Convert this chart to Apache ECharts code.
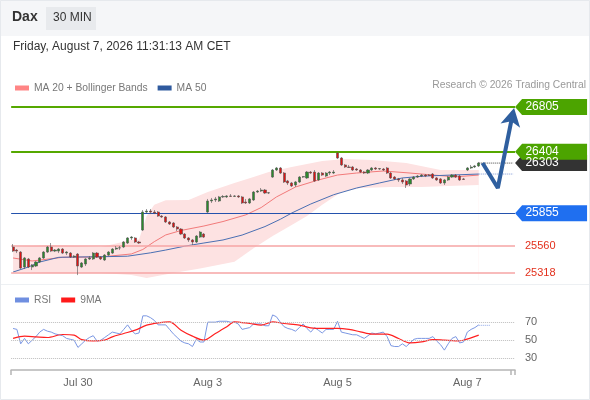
<!DOCTYPE html>
<html>
<head>
<meta charset="utf-8">
<script src="https://cdn.jsdelivr.net/npm/echarts@6/dist/echarts.min.js"></script>
<style>
    html, body { margin: 0; padding: 0; background: #fff; }
    #chart { width: 590px; height: 400px; }
</style>
</head>
<body>
<div id="chart"></div>
<script>
// trading days and 30 minute slots (09:00 - 17:00)
var dayLabels = ['Jul 29', 'Jul 30', 'Jul 31', 'Aug 3', 'Aug 4', 'Aug 5', 'Aug 6', 'Aug 7'];
var shownDays = ['Jul 30', 'Aug 3', 'Aug 5', 'Aug 7'];
var slotTimes = ['09:00', '09:30', '10:00', '10:30', '11:00', '11:30', '12:00', '12:30', '13:00',
    '13:30', '14:00', '14:30', '15:00', '15:30', '16:00', '16:30', '17:00'];
var slotCount = 132;

// [open, close, low, high]
var candles = [
    [25552, 25516, 25507, 25579], [25525, 25516, 25498, 25534], [25507, 25364, 25355, 25516], [25373, 25454, 25355, 25463],
    [25445, 25373, 25364, 25454], [25373, 25391, 25346, 25400], [25382, 25418, 25373, 25427], [25418, 25454, 25409, 25463],
    [25454, 25507, 25445, 25516], [25507, 25552, 25498, 25561], [25552, 25516, 25507, 25588], [25516, 25525, 25507, 25534],
    [25516, 25534, 25498, 25543], [25534, 25498, 25489, 25543], [25498, 25507, 25480, 25516], [25498, 25463, 25454, 25507],
    [25463, 25471, 25454, 25480],
    [25489, 25382, 25301, 25498], [25373, 25409, 25364, 25418], [25400, 25445, 25382, 25454], [25445, 25454, 25436, 25471],
    [25445, 25498, 25436, 25507], [25498, 25463, 25454, 25507], [25463, 25445, 25436, 25471], [25436, 25480, 25427, 25489],
    [25480, 25507, 25471, 25516], [25498, 25534, 25489, 25543], [25534, 25543, 25525, 25561], [25543, 25545, 25525, 25561],
    [25552, 25597, 25543, 25606], [25588, 25633, 25579, 25641], [25633, 25641, 25615, 25650], [25633, 25597, 25588, 25641],
    [25597, 25588, 25579, 25606],
    [25704, 25865, 25695, 25883], [25865, 25874, 25856, 25892], [25874, 25865, 25847, 25892], [25865, 25856, 25847, 25883],
    [25865, 25829, 25821, 25874], [25829, 25821, 25812, 25838], [25821, 25776, 25767, 25829], [25776, 25758, 25749, 25785],
    [25767, 25731, 25722, 25776], [25731, 25713, 25695, 25740], [25713, 25668, 25659, 25722], [25668, 25633, 25624, 25677],
    [25633, 25615, 25597, 25641], [25615, 25597, 25570, 25624], [25597, 25650, 25588, 25659], [25641, 25686, 25633, 25695],
    [25668, 25641, 25633, 25677],
    [25865, 25964, 25856, 25982], [25964, 25973, 25946, 25991], [25973, 25982, 25955, 26000], [25964, 26000, 25955, 26009],
    [26000, 26004, 25991, 26017], [26000, 26009, 25991, 26017], [26009, 26005, 26000, 26026], [26005, 26009, 26000, 26017],
    [26009, 26000, 25991, 26017], [26000, 25946, 25937, 26009], [25955, 25946, 25937, 25982], [25946, 25982, 25937, 25991],
    [25973, 26044, 25964, 26053], [26044, 26053, 26035, 26062], [26053, 26062, 26044, 26080], [26062, 26035, 26026, 26071],
    [26035, 26038, 26026, 26044],
    [26178, 26241, 26170, 26250], [26241, 26259, 26232, 26268], [26259, 26214, 26205, 26268], [26214, 26134, 26125, 26223],
    [26143, 26125, 26107, 26152], [26125, 26098, 26089, 26134], [26107, 26134, 26089, 26143], [26134, 26178, 26125, 26187],
    [26178, 26182, 26170, 26187], [26170, 26223, 26161, 26232], [26223, 26214, 26205, 26232], [26223, 26143, 26134, 26241],
    [26152, 26214, 26143, 26223], [26214, 26196, 26187, 26223], [26187, 26214, 26178, 26223], [26214, 26223, 26196, 26232],
    [26214, 26223, 26205, 26241],
    [26393, 26348, 26340, 26402], [26348, 26286, 26277, 26357], [26286, 26268, 26259, 26295], [26268, 26264, 26259, 26286],
    [26268, 26241, 26232, 26277], [26250, 26241, 26232, 26259], [26241, 26223, 26214, 26250], [26223, 26214, 26205, 26232],
    [26214, 26241, 26205, 26250], [26241, 26259, 26232, 26268], [26259, 26250, 26241, 26268], [26250, 26254, 26241, 26259],
    [26250, 26241, 26232, 26259], [26259, 26214, 26205, 26268], [26214, 26170, 26161, 26223], [26178, 26161, 26152, 26187],
    [26161, 26152, 26134, 26170],
    [26152, 26134, 26116, 26170], [26143, 26107, 26080, 26152], [26116, 26161, 26098, 26170], [26161, 26178, 26152, 26187],
    [26178, 26187, 26170, 26196], [26187, 26196, 26178, 26205], [26196, 26187, 26178, 26205], [26196, 26192, 26187, 26205],
    [26205, 26170, 26161, 26214], [26170, 26152, 26143, 26178], [26161, 26125, 26116, 26170], [26125, 26152, 26107, 26161],
    [26152, 26178, 26143, 26187], [26178, 26196, 26170, 26205], [26196, 26178, 26170, 26205], [26187, 26152, 26143, 26196],
    [26161, 26157, 26152, 26170],
    [26241, 26259, 26232, 26268], [26259, 26268, 26250, 26286], [26268, 26277, 26259, 26286], [26277, 26303, 26268, 26313]
];

// [bar index, value]
var ma20 = [[0, 25454], [5, 25427], [13, 25460], [23, 25463], [31, 25490], [34, 25530], [37, 25600], [40, 25660],
    [44, 25700], [50, 25740], [55, 25780], [61, 25840], [65, 25905], [69, 26000], [74, 26089], [80, 26152], [85, 26196],
    [90, 26214], [97, 26232], [104, 26214], [110, 26196], [116, 26180], [122, 26196]];
var ma50 = [[0, 25328], [4, 25373], [7, 25418], [12, 25460], [17, 25463], [23, 25465], [30, 25470], [36, 25500],
    [40, 25525], [45, 25560], [50, 25588], [55, 25615], [60, 25659], [66, 25735], [70, 25800], [73, 25856], [78, 25937],
    [84, 26020], [90, 26080], [96, 26125], [102, 26170], [108, 26187], [115, 26196], [122, 26205]];
var bandUpper = [[0, 25552], [10, 25570], [23, 25552], [31, 25615], [33, 25620], [35, 25830], [37, 25930], [40, 25970],
    [46, 25973], [51, 26044], [58, 26125], [63, 26178], [67, 26223], [73, 26268], [81, 26322], [87, 26340], [94, 26331],
    [103, 26304], [112, 26241], [122, 26241]];
var bandLower = [[0, 25328], [10, 25319], [23, 25319], [31, 25301], [35, 25275], [42, 25319], [49, 25360], [58, 25420],
    [63, 25540], [68, 25650], [73, 25750], [77, 25830], [81, 25930], [86, 26044], [91, 26080], [99, 26089], [107, 26089],
    [114, 26098], [122, 26107]];

var resistLevels = [26805, 26404];
var pivotLevel = 25855;
var supportLevels = [25560, 25318];
var lastPrice = 26303;
var ma50Last = 26205;
var arrowPath = [[123, 26303], [127, 26080], [131, 26760]];

var rsi = [63, 62, 46, 52, 46, 50, 54, 59, 62, 60, 59, 57, 56, 55, 52, 51, 50,
    42, 46, 50, 53, 55, 49, 50, 53, 56, 59, 58, 57, 62, 67, 61, 57, 58,
    77, 77, 75, 72, 67, 67, 67, 62, 57, 53, 49, 47, 46, 43, 51, 48, 48,
    70, 70, 70, 71, 71, 71, 70, 70, 68, 62, 63, 64, 68, 68, 68, 66, 66,
    78, 76, 70, 65, 63, 62, 60, 64, 68, 63, 59, 64, 61, 58, 62, 62, 62,
    71, 59, 58, 57, 56, 56, 54, 52, 55, 58, 57, 58, 59, 54, 44, 43, 43,
    46, 43, 47, 51, 52, 52, 52, 52, 54, 49, 45, 39, 46, 52, 54, 47, 48,
    59, 62, 64, 67];
var rsiMa9 = [[0, 52], [3, 54.5], [6, 53.7], [9, 53], [13, 56.3], [16, 55.6], [18, 50.7], [21, 49.3], [24, 50],
    [26, 53.7], [29, 57.4], [32, 61.1], [35, 66.7], [38, 69.3], [41, 70.4], [44, 61.1], [47, 54.5], [50, 50],
    [53, 57.4], [56, 64.8], [58, 70.4], [62, 68.5], [65, 66.7], [68, 70.4], [71, 68.5], [75, 66.7], [78, 63.7],
    [81, 63], [85, 63], [88, 61.9], [91, 59.3], [94, 56.7], [98, 56.7], [101, 51.9], [104, 47], [107, 48.1],
    [110, 50.7], [113, 50], [116, 49.3], [118, 50], [122, 55.6]];
var rsiLevels = [70, 50, 30];
var rsiLast = 66.5;

var categories = [];
for (var d = 0; d < dayLabels.length; d++) {
    for (var t = 0; t < slotTimes.length; t++) {
        if (categories.length < slotCount) {
            categories.push(dayLabels[d] + ' ' + slotTimes[t]);
        }
    }
}

function dayOf(val) {
    return val.slice(0, val.lastIndexOf(' '));
}

var font = 'Liberation Sans, Arial, sans-serif';
var boxShape = 'path://M0,8L7,0L72,0L72,16L7,16Z';

function levelBox(value, color) {
    return {
        coord: [slotCount - 1, value],
        value: value,
        itemStyle: { color: color }
    };
}

var levelLines = [];
for (var i = 0; i < resistLevels.length; i++) {
    levelLines.push({ yAxis: resistLevels[i], lineStyle: { color: '#55a800', width: 2, type: 'solid' }, label: { show: false } });
}
levelLines.push({ yAxis: pivotLevel, lineStyle: { color: '#2452ad', width: 1, type: 'solid' }, label: { show: false } });
for (var i = 0; i < supportLevels.length; i++) {
    levelLines.push({
        yAxis: supportLevels[i],
        lineStyle: { color: '#f6a5a5', width: 1.5, type: 'solid' },
        label: { show: true, position: 'end', distance: 10, formatter: '{c}', color: '#e3301c', fontSize: 11, fontFamily: font }
    });
}

var option = {
    animation: false,
    backgroundColor: '#fff',
    textStyle: { fontFamily: font },
    graphic: [
        { type: 'rect', shape: { x: 0, y: 0, width: 590, height: 36 }, style: { fill: '#f5f6f8' }, silent: true },
        { type: 'rect', shape: { x: 46, y: 7, width: 50, height: 23 }, style: { fill: '#e8eaed' }, silent: true },
        { type: 'text', left: 12, top: 10, style: { text: 'Dax', font: 'bold 14px ' + font, fill: '#333' } },
        { type: 'text', left: 53, top: 12, style: { text: '30 MIN', font: '12px ' + font, fill: '#333' } },
        { type: 'text', left: 13, top: 41, style: { text: 'Friday, August 7, 2026 11:31:13 AM CET', font: '12px ' + font, fill: '#333' } },
        { type: 'text', right: 4, top: 80, style: { text: 'Research \u00a9 2026 Trading Central', font: '10.3px ' + font, fill: '#999' } },
        { type: 'line', shape: { x1: 0, y1: 284.5, x2: 590, y2: 284.5 }, style: { stroke: '#edf0f3', lineWidth: 1 }, silent: true },
        { type: 'rect', shape: { x: 0.5, y: 0.5, width: 589, height: 399 }, style: { fill: 'none', stroke: '#e6e9ed', lineWidth: 1 }, silent: true }
    ],
    legend: [
        {
            left: 10, top: 78, itemWidth: 14, itemHeight: 5, itemGap: 10, icon: 'rect',
            textStyle: { color: '#777', fontSize: 10.3 },
            data: [
                { name: 'MA 20 + Bollinger Bands', itemStyle: { color: '#ff8585' } },
                { name: 'MA 50', itemStyle: { color: '#2f5a9e' } }
            ],
            selectedMode: false
        },
        {
            left: 10, top: 290, itemWidth: 14, itemHeight: 5, itemGap: 10, icon: 'rect',
            textStyle: { color: '#777', fontSize: 10.3 },
            data: [
                { name: 'RSI', itemStyle: { color: '#6f8fe0' } },
                { name: '9MA', itemStyle: { color: '#ff1a1a' } }
            ],
            selectedMode: false
        }
    ],
    grid: [
        { left: 11.15, width: 503.85, top: 95, height: 185 },
        { left: 11.15, width: 503.85, top: 305, height: 65 }
    ],
    xAxis: [
        {
            type: 'category', gridIndex: 0, data: categories, boundaryGap: true,
            axisLine: { show: false }, axisTick: { show: false }, axisLabel: { show: false }, splitLine: { show: false }
        },
        {
            type: 'category', gridIndex: 1, data: categories, boundaryGap: true,
            axisLine: { lineStyle: { color: '#b5b5b5', width: 1.5 } },
            axisTick: {
                show: true, length: 5, lineStyle: { color: '#b5b5b5', width: 1.5 },
                interval: function (idx) { return idx === 0 || idx === slotCount - 1; }
            },
            axisLabel: {
                color: '#666', fontSize: 11, margin: 7,
                interval: function (idx, val) {
                    return val.slice(-5) === '09:00' && shownDays.indexOf(dayOf(val)) >= 0;
                },
                formatter: function (val) { return dayOf(val); }
            },
            splitLine: { show: false }
        }
    ],
    yAxis: [
        { type: 'value', gridIndex: 0, min: 25257, max: 26912, show: false, splitLine: { show: false } },
        { type: 'value', gridIndex: 1, min: 17, max: 89, show: false, splitLine: { show: false } }
    ],
    series: [
        {
            name: 'bandUpper', type: 'line', data: bandUpper, symbol: 'none', silent: true, z: 1,
            lineStyle: { width: 0 }, areaStyle: { color: '#fde2e2', opacity: 1, origin: 'start' }
        },
        {
            name: 'bandLower', type: 'line', data: bandLower, symbol: 'none', silent: true, z: 2,
            lineStyle: { width: 0 }, areaStyle: { color: '#fff', opacity: 1, origin: 'start' }
        },
        {
            name: 'MA 20 + Bollinger Bands', type: 'line', data: ma20, symbol: 'none', z: 3,
            itemStyle: { color: '#ff8585' }, lineStyle: { color: '#f27a7a', width: 1 }
        },
        {
            name: 'MA 50', type: 'line', data: ma50, symbol: 'none', z: 3,
            itemStyle: { color: '#2f5a9e' }, lineStyle: { color: '#4a6fb3', width: 1 }
        },
        {
            name: 'Dax', type: 'candlestick', data: candles, barWidth: 2.6, z: 5,
            itemStyle: { color: '#2b8a2b', color0: '#e01212', borderColor: '#555', borderColor0: '#555', borderWidth: 0.6 },
            markLine: { symbol: ['none', 'none'], silent: true, z: 4, data: levelLines },
            markPoint: {
                symbol: boxShape, symbolSize: [72, 16], symbolOffset: [38, 0], silent: true,
                label: { show: true, color: '#fff', fontSize: 12, offset: [-9, 0], formatter: '{c}' },
                data: [
                    levelBox(lastPrice, '#333333'),
                    levelBox(resistLevels[1], '#4ca400'),
                    levelBox(resistLevels[0], '#4ca400'),
                    levelBox(pivotLevel, '#1f6ff0')
                ]
            }
        },
        {
            name: 'lastPrice', type: 'line', data: [[122, lastPrice], [slotCount - 1, lastPrice]], symbol: 'none', z: 4,
            lineStyle: { color: '#444', width: 1, type: 'dotted' }
        },
        {
            name: 'ma50Proj', type: 'line', data: [[122, ma50Last], [slotCount - 1, ma50Last]], symbol: 'none', z: 4,
            lineStyle: { color: '#7d98d6', width: 1, type: 'dotted' }
        },
        {
            name: 'scenario', type: 'line', z: 6, symbol: 'none', data: arrowPath,
            lineStyle: { color: '#2f5f9f', width: 4 },
            itemStyle: { color: '#2f5f9f' },
            markPoint: {
                silent: true,
                symbol: 'arrow', symbolSize: [15, 18], symbolRotate: -12, symbolOffset: [1, -4],
                itemStyle: { color: '#2f5f9f' },
                label: { show: false },
                data: [{ coord: arrowPath[2] }]
            }
        },
        {
            name: 'RSI', type: 'line', xAxisIndex: 1, yAxisIndex: 1, data: rsi, symbol: 'none', z: 3,
            itemStyle: { color: '#6f8fe0' }, lineStyle: { color: '#7b97e3', width: 1 },
            markLine: {
                symbol: ['none', 'none'], silent: true,
                lineStyle: { color: '#bdbdbd', width: 1, type: 'dotted' },
                label: { show: true, position: 'end', distance: 10, formatter: '{c}', color: '#666', fontSize: 11 },
                data: rsiLevels.map(function (v) { return { yAxis: v }; })
            }
        },
        {
            name: 'rsiProj', type: 'line', xAxisIndex: 1, yAxisIndex: 1, data: [[122, rsiLast], [125, rsiLast]],
            symbol: 'none', lineStyle: { color: '#8aa4e8', width: 1, type: 'dotted' }
        },
        {
            name: '9MA', type: 'line', xAxisIndex: 1, yAxisIndex: 1, data: rsiMa9, symbol: 'none', smooth: 0.3, z: 4,
            itemStyle: { color: '#ff1a1a' }, lineStyle: { color: '#ff2020', width: 1.2 }
        }
    ]
};

var myChart = echarts.init(document.getElementById('chart'));
myChart.setOption(option);
</script>
</body>
</html>
